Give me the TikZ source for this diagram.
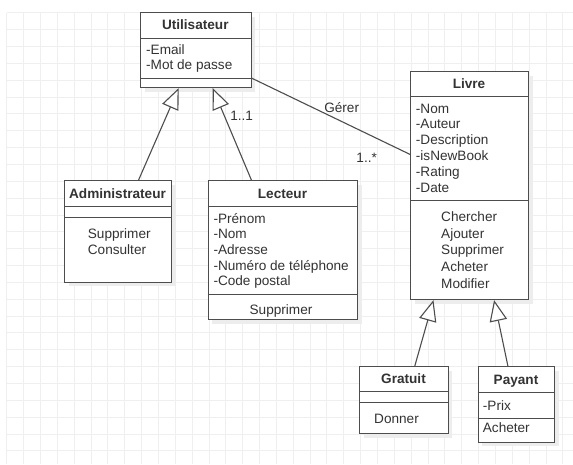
\documentclass[tikz,border=0pt]{standalone}
\usepackage{fontspec}
\setmainfont{Liberation Sans}
\usetikzlibrary{arrows.meta,calc,shadows}
\definecolor{gridc}{HTML}{EFEFEF}
\definecolor{txtc}{HTML}{333333}
\definecolor{linec}{HTML}{4D4D4D}
\begin{document}
\begin{tikzpicture}[x=1pt,y=-1pt,
  cls/.style={draw=linec, line width=1.1pt, fill=white, inner sep=0pt, anchor=north west,
    drop shadow={shadow xshift=4pt, shadow yshift=-4pt, fill=black!7, opacity=1}},
  sep/.style={draw=linec, line width=1.1pt},
  txt/.style={inner sep=0pt, text height=9.7pt, text depth=0pt, text=txtc,
    font=\fontsize{13.6}{15.8}\selectfont},
  ttl/.style={txt, font=\fontsize{13.6}{15.8}\selectfont\bfseries},
  inh/.style={draw=linec, line width=1.1pt, -{Triangle[open,length=21pt,width=17.5pt,fill=white]}},
  assoc/.style={draw=linec, line width=1.1pt},
]
\useasboundingbox[fill=white] (0,0) rectangle (573,464);
% grid
\foreach \i in {0,...,33} \draw[gridc, line width=0.8pt] ({6.7+16.85*\i},12.7) -- ({6.7+16.85*\i},464);
\foreach \j in {0,...,26} \draw[gridc, line width=0.8pt] (6.7,{12.7+16.85*\j}) -- (573,{12.7+16.85*\j});

% class boxes
\node[cls, minimum width=110.7pt, minimum height=75pt] (util) at (140,12) {};
\node[cls, minimum width=118pt, minimum height=228pt] (livre) at (410,71) {};
\node[cls, minimum width=107pt, minimum height=101.7pt] (admin) at (64,180) {};
\node[cls, minimum width=149.6pt, minimum height=139.3pt] (lect) at (207.7,180) {};
\node[cls, minimum width=88.4pt, minimum height=67.3pt] (grat) at (359.3,366) {};
\node[cls, minimum width=76.3pt, minimum height=75.7pt] (pay) at (477.7,366) {};

% dividers
\draw[sep] (util.west |- 0,38.3) -- (util.east |- 0,38.3);
\draw[sep] (util.west |- 0,78.3) -- (util.east |- 0,78.3);
\draw[sep] (livre.west |- 0,96.7) -- (livre.east |- 0,96.7);
\draw[sep] (livre.west |- 0,200.7) -- (livre.east |- 0,200.7);
\draw[sep] (admin.west |- 0,206.7) -- (admin.east |- 0,206.7);
\draw[sep] (admin.west |- 0,217.3) -- (admin.east |- 0,217.3);
\draw[sep] (lect.west |- 0,206.7) -- (lect.east |- 0,206.7);
\draw[sep] (lect.west |- 0,294.3) -- (lect.east |- 0,294.3);
\draw[sep] (grat.west |- 0,391.7) -- (grat.east |- 0,391.7);
\draw[sep] (grat.west |- 0,402.7) -- (grat.east |- 0,402.7);
\draw[sep] (pay.west |- 0,392.3) -- (pay.east |- 0,392.3);
\draw[sep] (pay.west |- 0,418.3) -- (pay.east |- 0,418.3);

% titles
\node[ttl] (utilT) at (195.3,25) {Utilisateur};
\node[ttl] (livreT) at (469,84) {Livre};
\node[ttl] (adminT) at (117.5,194) {Administrateur};
\node[ttl] (lectT) at (282.5,194) {Lecteur};
\node[ttl] (gratT) at (403.5,379) {Gratuit};
\node[ttl] (payT) at (516,379.3) {Payant};

% Utilisateur
\node[txt, anchor=west] (utilA1) at (146,50) {-Email};
\node[txt, anchor=west] (utilA2) at (146,65) {-Mot de passe};

% Livre
\foreach \t [count=\i] in {-Nom,-Auteur,-Description,-isNewBook,-Rating,-Date}
  \node[txt, anchor=west] (livreA\i) at (415.7,{108.3+15.8*(\i-1)}) {\t};
\foreach \t [count=\i] in {Chercher,Ajouter,Supprimer,Acheter,Modifier}
  \node[txt, anchor=west] (livreM\i) at (441,{216.7+16.65*(\i-1)}) {\t};

% Administrateur
\node[txt, anchor=west] (adminM1) at (87.7,233.3) {Supprimer};
\node[txt, anchor=west] (adminM2) at (87.7,250) {Consulter};

% Lecteur
\foreach \t [count=\i] in {-Prénom,-Nom,-Adresse,-Numéro de téléphone,-Code postal}
  \node[txt, anchor=west] (lectA\i) at (213.3,{218.3+15.7*(\i-1)}) {\t};
\node[txt] (lectM1) at (281,310) {Supprimer};

% Gratuit
\node[txt, anchor=west] (gratM1) at (374,419) {Donner};

% Payant
\node[txt, anchor=west] (payA1) at (482.7,405.7) {-Prix};
\node[txt, anchor=west] (payM1) at (482.7,427.3) {Acheter};

% connectors
\draw[inh] ($(admin.north west)!0.69!(admin.north east)$) -- ($(util.south west)!0.346!(util.south east)$);
\draw[inh] ($(lect.north west)!0.29!(lect.north east)$) -- ($(util.south west)!0.65!(util.south east)$);
\draw[inh] ($(grat.north west)!0.62!(grat.north east)$) -- ($(livre.south west)!0.197!(livre.south east)$);
\draw[inh] ($(pay.north west)!0.39!(pay.north east)$) -- ($(livre.south west)!0.706!(livre.south east)$);
\draw[assoc] ($(util.north east)!0.87!(util.south east)$) -- ($(livre.north west)!0.364!(livre.south west)$);

% labels
\node[txt] (gerer) at (341.7,107.3) {Gérer};
\node[txt] (m11) at (241.7,115.7) {1..1};
\node[txt] (m1s) at (366.7,157.3) {1..*};
\end{tikzpicture}
\end{document}
